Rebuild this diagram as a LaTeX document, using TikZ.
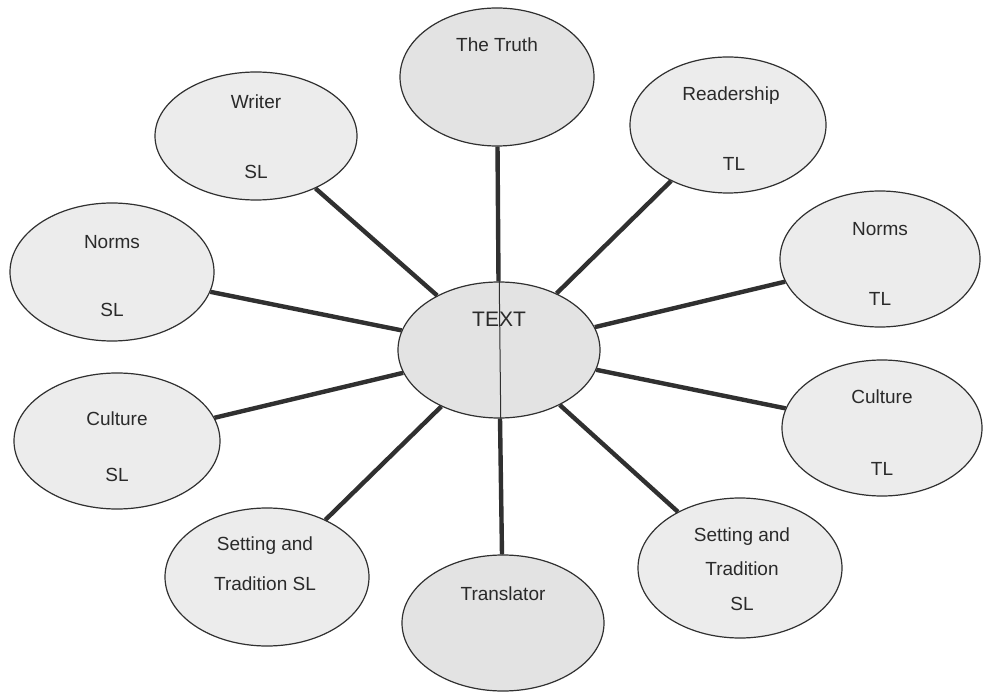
\documentclass[tikz,border=0pt]{standalone}
\usepackage{fontspec}
\setmainfont{Liberation Sans}
\usetikzlibrary{shapes.geometric}
\definecolor{edgecol}{HTML}{303030}
\definecolor{txtcol}{HTML}{2A2A2A}
\definecolor{bubfill}{HTML}{ECECEC}
\definecolor{bubdark}{HTML}{E3E3E3}
\begin{document}
\begin{tikzpicture}[x=1pt,y=1pt,
  bub/.style={ellipse, draw=edgecol, line width=1.2pt, fill=bubfill, inner sep=0pt},
  lbl/.style={font=\fontsize{19}{23}\selectfont, text=txtcol, inner sep=0pt, text height=1.5ex, text depth=0pt},
  conn/.style={draw=edgecol, line width=4.4pt},
  thinconn/.style={draw=edgecol, line width=1pt}]
\useasboundingbox (0,0) rectangle (987,694);
\fill[white] (0,0) rectangle (987,694);
% bubbles
\node[bub, fill=bubdark, minimum width=194pt, minimum height=138pt] (truth) at (497,617) {};
\node[bub, minimum width=202pt, minimum height=128pt] (writer) at (256,558) {};
\node[bub, minimum width=196pt, minimum height=136pt] (readership) at (728,569) {};
\node[bub, minimum width=204pt, minimum height=138pt] (normsSL) at (112,422) {};
\node[bub, minimum width=200pt, minimum height=136pt] (normsTL) at (880,435) {};
\node[bub, fill=bubdark, minimum width=202pt, minimum height=136pt] (text) at (499,344) {};
\node[bub, minimum width=206pt, minimum height=136pt] (cultureSL) at (117,253) {};
\node[bub, minimum width=200pt, minimum height=136pt] (cultureTL) at (882,266) {};
\node[bub, minimum width=204pt, minimum height=138pt] (settingSL) at (267,117) {};
\node[bub, fill=bubdark, minimum width=202pt, minimum height=136pt] (translator) at (503,71) {};
\node[bub, minimum width=204pt, minimum height=140pt] (settingTL) at (740,126) {};
% labels
\node[lbl] (truthA) at ([yshift=29pt]truth.center) {The Truth};
\node[lbl] (writerA) at ([yshift=31pt]writer.center) {Writer};
\node[lbl] (writerB) at ([yshift=-39pt]writer.center) {SL};
\node[lbl] (readA) at ([yshift=28pt,xshift=3pt]readership.center) {Readership};
\node[lbl] (readB) at ([yshift=-42pt,xshift=6pt]readership.center) {TL};
\node[lbl] (normsSLA) at ([yshift=27pt]normsSL.center) {Norms};
\node[lbl] (normsSLB) at ([yshift=-41pt]normsSL.center) {SL};
\node[lbl] (normsTLA) at ([yshift=27pt]normsTL.center) {Norms};
\node[lbl] (normsTLB) at ([yshift=-43pt]normsTL.center) {TL};
\node[lbl, font=\fontsize{21}{25}\selectfont] (textA) at ([yshift=27pt]text.center) {TEXT};
\node[lbl] (cultureSLA) at ([yshift=19pt]cultureSL.center) {Culture};
\node[lbl] (cultureSLB) at ([yshift=-37pt]cultureSL.center) {SL};
\node[lbl] (cultureTLA) at ([yshift=28pt]cultureTL.center) {Culture};
\node[lbl] (cultureTLB) at ([yshift=-44pt]cultureTL.center) {TL};
\node[lbl] (settingSLA) at ([yshift=30pt,xshift=-2pt]settingSL.center) {Setting and};
\node[lbl] (settingSLB) at ([yshift=-10pt,xshift=-2pt]settingSL.center) {Tradition SL};
\node[lbl] (translatorA) at ([yshift=26pt]translator.center) {Translator};
\node[lbl] (settingTLA) at ([yshift=30pt,xshift=2pt]settingTL.center) {Setting and};
\node[lbl] (settingTLB) at ([yshift=-4pt,xshift=2pt]settingTL.center) {Tradition};
\node[lbl] (settingTLC) at ([yshift=-39pt,xshift=2pt]settingTL.center) {SL};
% connectors
\draw[conn] (truth) -- (text);
\draw[conn] (text) -- (translator);
\draw[thinconn] (truth) -- (translator);
\draw[conn] (writer) -- (text);
\draw[conn] (readership) -- (text);
\draw[conn] (normsSL) -- (text);
\draw[conn] (normsTL) -- (text);
\draw[conn] (cultureSL) -- (text);
\draw[conn] (cultureTL) -- (text);
\draw[conn] (settingSL) -- (text);
\draw[conn] (settingTL) -- (text);
\end{tikzpicture}
\end{document}
